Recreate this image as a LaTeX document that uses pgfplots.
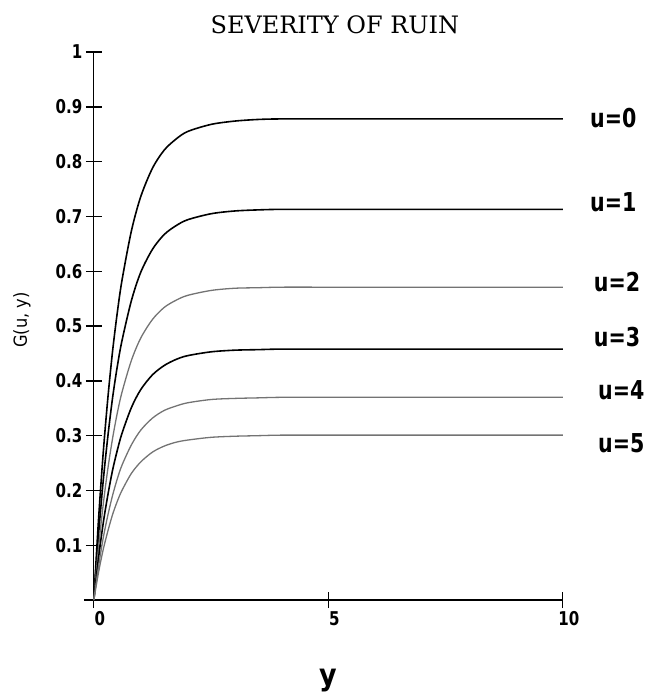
\documentclass[border=0pt]{standalone}
\usepackage{fontspec}
\usepackage{pgfplots}
\pgfplotsset{compat=1.18}
\setmainfont{DejaVu Sans Condensed}
\newfontfamily\titlefont{DejaVu Serif}
\newfontfamily\labfont[FakeStretch=0.88]{DejaVu Sans Condensed}

\begin{document}
\begin{tikzpicture}
\begin{axis}[
  scale only axis,
  x=46.9pt, y=548pt,
  xmin=-0.21, xmax=10, ymin=-0.012, ymax=1,
  axis lines=middle,
  hide obscured x ticks=false,
  hide obscured y ticks=false,
  axis line style={line width=1.3pt, -},
  xtick={0,5,10}, xticklabels={0,5,10},
  ytick={0.1,0.2,0.3,0.4,0.5,0.6,0.7,0.8,0.9,1},
  yticklabels={0.1,0.2,0.3,0.4,0.5,0.6,0.7,0.8,0.9,1},
  tick align=center,
  major tick length=16pt,
  tick style={line width=1.3pt, black},
  tick label style={font=\labfont\bfseries\fontsize{19}{19}\selectfont},
  xticklabel style={xshift=6pt},
  clip=false,
]
% u=0
\addplot[black, line width=1.6pt, smooth] coordinates {
 (0,0) (0.1,0.146) (0.2,0.268) (0.3,0.369) (0.4,0.454) (0.5,0.524) (0.6,0.583)
 (0.8,0.673) (1.0,0.736) (1.25,0.788) (1.5,0.821) (1.75,0.841) (2.0,0.855)
 (2.5,0.868) (3.0,0.874) (3.5,0.877) (4,0.878) (5,0.878) (6.5,0.878) (8,0.878) (10,0.878)};
% u=1
\addplot[black, line width=1.6pt, smooth] coordinates {
 (0,0) (0.1,0.118) (0.2,0.217) (0.3,0.299) (0.4,0.369) (0.5,0.426) (0.6,0.473)
 (0.8,0.546) (1.0,0.598) (1.25,0.640) (1.5,0.667) (1.75,0.683) (2.0,0.694)
 (2.5,0.705) (3.0,0.710) (3.5,0.712) (4,0.713) (5,0.713) (6.5,0.713) (8,0.713) (10,0.713)};
% u=2
\addplot[black!55, line width=1.3pt, smooth] coordinates {
 (0,0) (0.1,0.095) (0.2,0.174) (0.3,0.240) (0.4,0.295) (0.5,0.341) (0.6,0.379)
 (0.8,0.437) (1.0,0.478) (1.25,0.512) (1.5,0.534) (1.75,0.547) (2.0,0.556)
 (2.5,0.565) (3.0,0.569) (3.5,0.570) (4,0.571) (5,0.571) (6.5,0.571) (8,0.571) (10,0.571)};
% u=3
\addplot[black, line width=1.6pt, smooth] coordinates {
 (0,0) (0.1,0.076) (0.2,0.140) (0.3,0.192) (0.4,0.237) (0.5,0.273) (0.6,0.304)
 (0.8,0.351) (1.0,0.384) (1.25,0.411) (1.5,0.428) (1.75,0.439) (2.0,0.446)
 (2.5,0.453) (3.0,0.456) (3.5,0.457) (4,0.458) (5,0.458) (6.5,0.458) (8,0.458) (10,0.458)};
% u=4
\addplot[black!55, line width=1.3pt, smooth] coordinates {
 (0,0) (0.1,0.061) (0.2,0.113) (0.3,0.155) (0.4,0.191) (0.5,0.221) (0.6,0.246)
 (0.8,0.283) (1.0,0.310) (1.25,0.332) (1.5,0.346) (1.75,0.354) (2.0,0.360)
 (2.5,0.366) (3.0,0.368) (3.5,0.369) (4,0.370) (5,0.370) (6.5,0.370) (8,0.370) (10,0.370)};
% u=5
\addplot[black!55, line width=1.3pt, smooth] coordinates {
 (0,0) (0.1,0.050) (0.2,0.092) (0.3,0.126) (0.4,0.156) (0.5,0.180) (0.6,0.200)
 (0.8,0.231) (1.0,0.252) (1.25,0.270) (1.5,0.281) (1.75,0.288) (2.0,0.292)
 (2.5,0.297) (3.0,0.299) (3.5,0.300) (4,0.301) (5,0.301) (6.5,0.301) (8,0.301) (10,0.301)};

% curve labels
\begin{scope}[every node/.style={anchor=west, inner sep=0pt, font=\labfont\bfseries\fontsize{26}{26}\selectfont}]
\node at (axis cs:10.58,0.879) {u=0};
\node at (axis cs:10.58,0.726) {u=1};
\node at (axis cs:10.66,0.580) {u=2};
\node at (axis cs:10.66,0.480) {u=3};
\node at (axis cs:10.75,0.383) {u=4};
\node at (axis cs:10.75,0.286) {u=5};
\end{scope}

\node[font=\titlefont\fontsize{24}{24}\selectfont] at (axis cs:5.14,1.049) {SEVERITY OF RUIN};
\node[font=\bfseries\fontsize{30}{30}\selectfont] at (axis cs:4.99,-0.146) {y};
\node[rotate=90, font=\fontsize{18}{18}\selectfont] at (axis cs:-1.535,0.511) {G(u, y)};

\coordinate (bl) at (axis cs:-2.0,-0.175);
\coordinate (tr) at (axis cs:11.855,1.095);
\end{axis}
\pgfresetboundingbox
\path[use as bounding box] (bl) rectangle (tr);
\end{tikzpicture}
\end{document}
